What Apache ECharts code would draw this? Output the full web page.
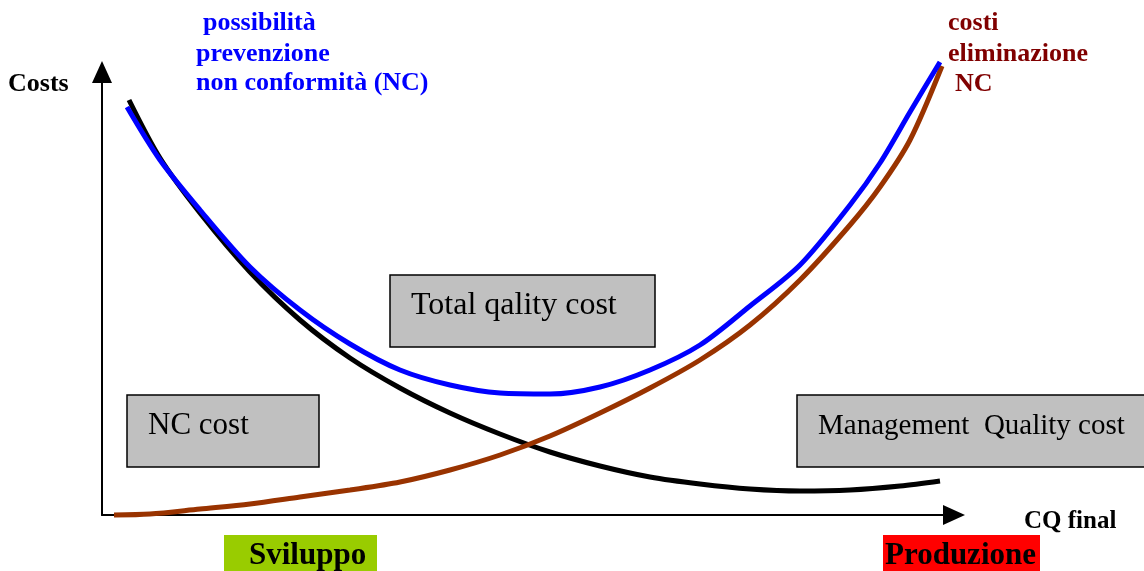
<!DOCTYPE html>
<html>
<head>
<meta charset="utf-8">
<script src="https://cdn.jsdelivr.net/npm/echarts@6/dist/echarts.min.js"></script>
<style>
  html, body { margin: 0; padding: 0; background: #fff; }
  #chart { width: 1144px; height: 571px; }
</style>
</head>
<body>
<div id="chart"></div>
<script>
// curves: [quality level, cost]
var ncCost = [
  [27, 415], [58, 357], [98, 302], [148, 243], [198, 195], [248, 157],
  [298, 127], [348, 102], [398, 81], [448, 63], [498, 49], [548, 38],
  [598, 31], [648, 26], [698, 24], [748, 25], [798, 29], [838, 34]
];
var managementCost = [
  [12, 0], [48, 1], [98, 6], [148, 11], [198, 18], [248, 25], [298, 33],
  [348, 45], [398, 60], [448, 79], [498, 102], [548, 127], [598, 155],
  [648, 190], [698, 235], [748, 290], [778, 328], [808, 375], [840, 449]
];
var totalCost = [
  [25, 408], [58, 355], [98, 305], [148, 248], [198, 205], [248, 171],
  [298, 145], [348, 130], [398, 122], [448, 121], [498, 128], [548, 145],
  [598, 170], [648, 209], [698, 250], [748, 310], [778, 352], [808, 403], [838, 453]
];

var serif = '"Liberation Serif", "Times New Roman", serif';

function curve(name, data, color) {
  return {
    name: name,
    type: 'line',
    data: data,
    smooth: 0.3,
    showSymbol: false,
    clip: false,
    silent: true,
    lineStyle: { color: color, width: 5, cap: 'butt' }
  };
}

function box(x, y, w, h, label, size) {
  return [
    { type: 'rect', shape: { x: x, y: y, width: w, height: h },
      style: { fill: '#C0C0C0', stroke: '#000', lineWidth: 1.5 }, z: 10 },
    { type: 'text', x: x + 21, y: y + 31, z: 11,
      style: { text: label, font: size + 'px ' + serif, fill: '#000', verticalAlign: 'middle' } }
  ];
}

function label(text, x, y, color, size) {
  return { type: 'text', x: x, y: y, z: 11,
    style: { text: text, font: 'bold ' + size + 'px ' + serif, fill: color, verticalAlign: 'middle' } };
}

var myChart = echarts.init(document.getElementById('chart'));
var option = {
  backgroundColor: '#FFFFFF',
  animation: false,
  grid: { left: 102, right: 190, top: 72, bottom: 56 },
  xAxis: {
    type: 'value', min: 0, max: 852,
    axisLine: { show: true, onZero: false, symbol: ['none', 'triangle'], symbolSize: [20, 22],
      lineStyle: { color: '#000', width: 2 } },
    axisTick: { show: false }, axisLabel: { show: false }, splitLine: { show: false }
  },
  yAxis: {
    type: 'value', min: 0, max: 443,
    axisLine: { show: true, onZero: false, symbol: ['none', 'triangle'], symbolSize: [20, 22],
      lineStyle: { color: '#000', width: 2 } },
    axisTick: { show: false }, axisLabel: { show: false }, splitLine: { show: false }
  },
  series: [
    curve('NC cost', ncCost, '#000000'),
    curve('Management Quality cost', managementCost, '#993300'),
    curve('Total qality cost', totalCost, '#0000FF')
  ],
  graphic: [].concat(
    box(390, 275, 265, 72, 'Total qality cost', 32),
    box(127, 395, 192, 72, 'NC cost', 31),
    box(797, 395, 360, 72, 'Management  Quality cost', 29),
    [
      label('Costs', 8, 84, '#000', 26),
      label('possibilità', 203, 23, '#0000FF', 26),
      label('prevenzione', 196, 54, '#0000FF', 26),
      label('non conformità (NC)', 196, 83, '#0000FF', 26),
      label('costi', 948, 23, '#800000', 26),
      label('eliminazione', 948, 54, '#800000', 26),
      label('NC', 955, 84, '#800000', 26),
      label('CQ final', 1024, 522, '#000', 25),
      { type: 'rect', shape: { x: 224, y: 535, width: 153, height: 40 }, style: { fill: '#99CC00' } },
      label('Sviluppo', 249, 556, '#000', 31),
      { type: 'rect', shape: { x: 883, y: 535, width: 157, height: 40 }, style: { fill: '#FF0000' } },
      label('Produzione', 885, 556, '#000', 31)
    ]
  )
};
myChart.setOption(option);
</script>
</body>
</html>
